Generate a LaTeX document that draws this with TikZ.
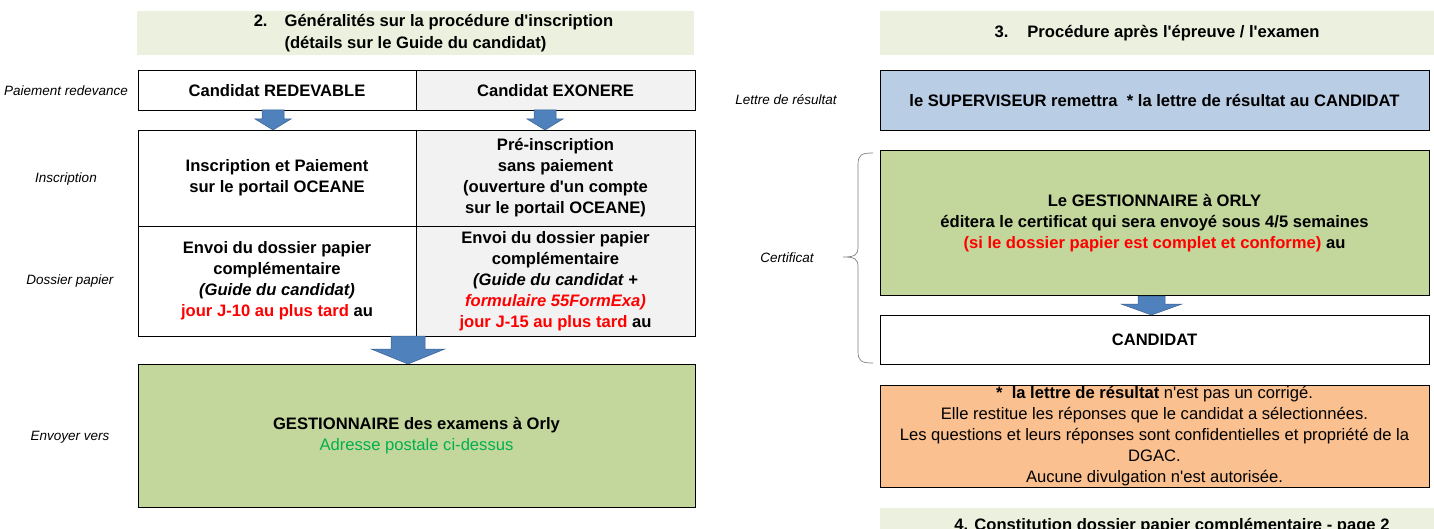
\documentclass[tikz,border=0pt]{standalone}
\usepackage{fontspec}
\setmainfont{Liberation Sans}[Ligatures=TeXOff]
\definecolor{vertpale}{HTML}{EBF1DE}
\definecolor{grisclair}{HTML}{F2F2F2}
\definecolor{vertcadre}{HTML}{C3D69B}
\definecolor{bleucadre}{HTML}{B9CDE5}
\definecolor{orangecadre}{HTML}{FAC090}
\definecolor{bleufleche}{HTML}{4F81BD}
\definecolor{vertadresse}{HTML}{00B050}
\begin{document}
\begin{tikzpicture}[x=1pt, y=-1pt, line join=miter,
  font=\fontsize{16.6}{21}\selectfont,
  titre/.style={fill=vertpale, minimum height=44.5, inner sep=0pt, align=center, font=\fontsize{16.6}{21.5}\selectfont\bfseries},
  cadre/.style={draw, line width=0.9pt, inner sep=0pt, align=center, font=\fontsize{16.6}{21}\selectfont\bfseries},
  etiquette/.style={inner sep=0pt, font=\fontsize{13.5}{16}\selectfont\itshape},
  pics/fleche/.style n args={4}{code={
      \filldraw[fill=bleufleche, draw=bleufleche!75!black, line width=0.5pt]
        (-#1,0) -- (#1,0) -- (#1,#3) -- (#2,#3) -- (0,#4) -- (-#2,#3) -- (-#1,#3) -- cycle;}}]
\useasboundingbox (0,0) rectangle (1434,529);
% partie 2 : inscription
\node[titre, minimum width=557] (titre2) at (415.5,33) {\hspace*{36pt}2.\hspace{17pt}Généralités sur la procédure d'inscription\\(détails sur le Guide du candidat)};
\node[cadre, fill=white, minimum width=278, minimum height=39.5] (redev) at (277,90.5) {Candidat REDEVABLE};
\node[cadre, fill=grisclair, minimum width=279, minimum height=39.5] (exo) at (555.5,90.5) {Candidat EXONERE};
\node[cadre, fill=white, minimum width=278, minimum height=96] (inscr) at (277,178) {Inscription et Paiement\\sur le portail OCEANE};
\node[cadre, fill=grisclair, minimum width=279, minimum height=96] (preinscr) at (555.5,178) {Pré-inscription\\sans paiement\\(ouverture d'un compte\\sur le portail OCEANE)};
\node[cadre, fill=white, minimum width=278, minimum height=110] (envoi) at (277,281) {Envoi du dossier papier\\complémentaire\\\textit{(Guide du candidat)}\\{\color{red}jour J-10 au plus tard} au};
\node[cadre, fill=grisclair, minimum width=279, minimum height=110] (envoiexo) at (555.5,281) {Envoi du dossier papier\\complémentaire\\\textit{(Guide du candidat +}\\\textit{\color{red}formulaire 55FormExa)}\\{\color{red}jour J-15 au plus tard} au};
\node[cadre, fill=vertcadre, minimum width=557, minimum height=143] (gestion) at (416.5,435.5) {GESTIONNAIRE des examens à Orly\\{\mdseries\color{vertadresse}Adresse postale ci-dessus}};
\node[etiquette] (lpaie) at (66,91) {Paiement redevance};
\node[etiquette] (linscr) at (66,179) {Inscription};
\node[etiquette] (ldossier) at (70,281) {Dossier papier};
\node[etiquette] (lenvoi) at (70,437) {Envoyer vers};
\pic at (273,110) {fleche={11}{18}{9}{20}};
\pic at (545,110) {fleche={11}{18}{9}{20}};
\pic at (408,336) {fleche={17}{37}{13}{28}};
% partie 3 : apres l'epreuve
\node[titre, minimum width=554] (titre3) at (1157,33) {3.\hspace{19pt}Procédure après l'épreuve / l'examen};
\node[cadre, fill=bleucadre, minimum width=549, minimum height=60] (lettre) at (1154.5,100) {le SUPERVISEUR remettra \ * la lettre de résultat au CANDIDAT};
\node[cadre, fill=vertcadre, minimum width=549, minimum height=144.5] (certif) at (1154.5,223) {Le GESTIONNAIRE à ORLY\\éditera le certificat qui sera envoyé sous 4/5 semaines\\{\color{red}(si le dossier papier est complet et conforme)} au};
\node[cadre, fill=white, minimum width=549, minimum height=49] (candidat) at (1154.5,339.5) {CANDIDAT};
\node[cadre, fill=orangecadre, minimum width=549, minimum height=102, font=\fontsize{16.6}{21}\selectfont] (note) at (1154.5,436) {\textbf{* \ la lettre de résultat} n'est pas un corrigé.\\Elle restitue les réponses que le candidat a sélectionnées.\\Les questions et leurs réponses sont confidentielles et propriété de la\\DGAC.\\Aucune divulgation n'est autorisée.};
\node[etiquette] (llettre) at (786,100) {Lettre de résultat};
\node[etiquette] (lcertif) at (787,258) {Certificat};
\draw[gray, line width=0.7pt] (873,153) .. controls (861,153) and (858,155) .. (858,165) -- (858,247) .. controls (858,255) and (855,257) .. (843,257) .. controls (855,257) and (858,259) .. (858,267) -- (858,351) .. controls (858,361) and (861,363) .. (873,363);
\pic at (1151.5,296) {fleche={13.5}{30.5}{8}{19}};
% partie 4
\fill[vertpale] (880,508) rectangle (1434,545);
\node[anchor=base, inner sep=0pt, font=\fontsize{16.6}{21}\selectfont\bfseries] (titre4) at (1172,530) {4. Constitution dossier papier complémentaire - page 2};
\end{tikzpicture}
\end{document}
